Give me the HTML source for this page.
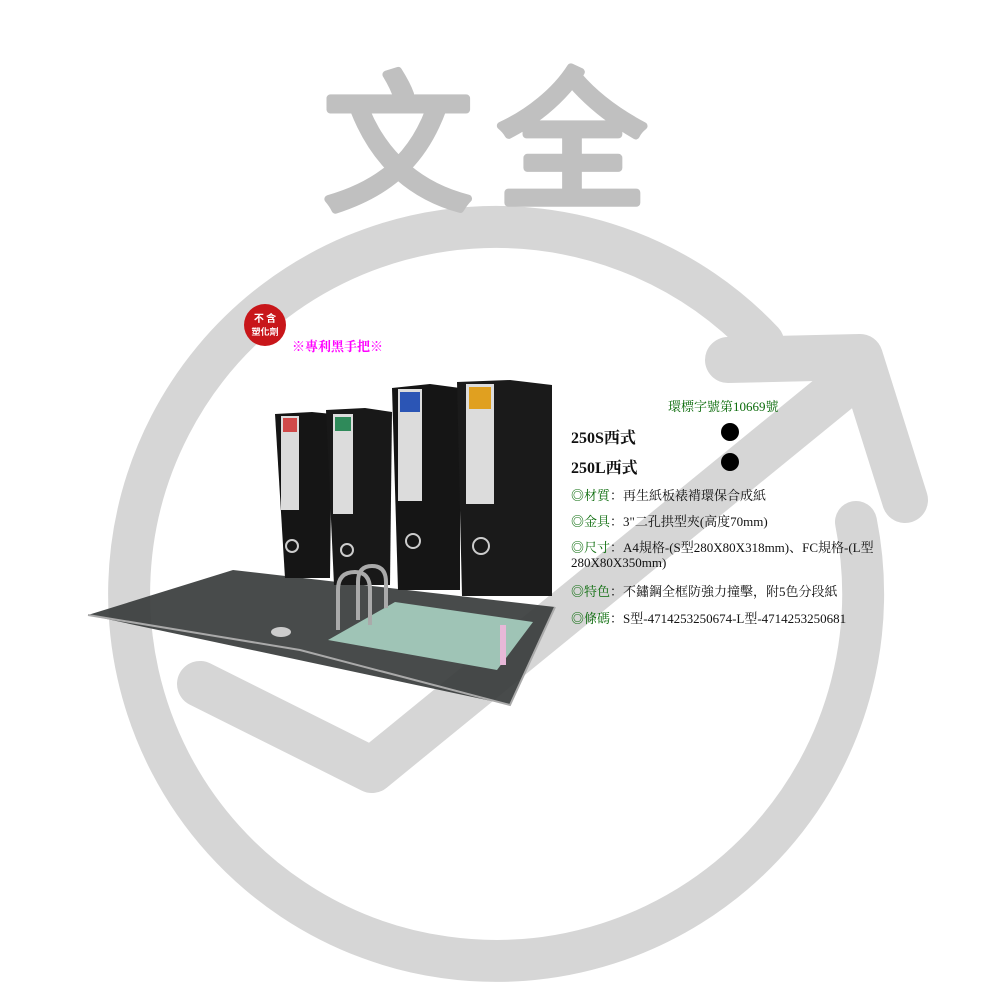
<!DOCTYPE html>
<html><head><meta charset="utf-8"><style>
body{margin:0;background:#fff;width:1000px;height:1000px;position:relative;overflow:hidden;font-family:"Liberation Serif","Noto Serif CJK SC","Noto Sans CJK TC",serif}
.t{position:absolute;white-space:nowrap;color:#111;font-size:13px}
.g{color:#0a6b0a}
.wm{font-family:"Noto Sans CJK SC","WenQuanYi Zen Hei",sans-serif;font-weight:normal}
</style></head><body>
<svg width="1000" height="1000" style="position:absolute;left:0;top:0">
<g fill="none" stroke="#d6d6d6" stroke-linecap="round" stroke-linejoin="round">
<path d="M 763 342 A 367 367 0 1 0 856 522" stroke-width="42"/>
<polyline points="200,684 372,770 860,372" stroke-width="46"/>
<polyline points="728,360 860,357 905,500" stroke-width="46"/>
</g>
<text class="wm" x="398" y="198" font-size="150" fill="#c0c0c0" stroke="#c0c0c0" stroke-width="8" stroke-linejoin="round" text-anchor="middle">文</text>
<text class="wm" x="572" y="195" font-size="150" fill="#c0c0c0" stroke="#c0c0c0" stroke-width="8" stroke-linejoin="round" text-anchor="middle">全</text>
<!-- open binder -->
<polygon points="88,615 233,570 555,607 510,705" fill="#3a3d3d" opacity="0.93"/>
<polyline points="88,615 300,650 510,705 555,607" fill="none" stroke="#aaa" stroke-width="2"/>
<ellipse cx="281" cy="632" rx="10" ry="5" fill="#ccc"/>
<!-- standing binders -->
<polygon points="275,414 312,412 332,414 330,578 285,578" fill="#151515"/>
<polygon points="326,410 365,408 392,412 390,585 334,585" fill="#181818"/>
<polygon points="392,388 430,384 460,388 460,590 398,590" fill="#151515"/>
<polygon points="457,382 510,380 552,385 552,596 462,596" fill="#1a1a1a"/>
<rect x="281" y="416" width="18" height="94" fill="#dcdcdc"/><rect x="283" y="418" width="14" height="14" fill="#d04a4a"/>
<rect x="333" y="414" width="20" height="100" fill="#dcdcdc"/><rect x="335" y="417" width="16" height="14" fill="#2f8a5a"/>
<rect x="398" y="389" width="24" height="112" fill="#dcdcdc"/><rect x="400" y="392" width="20" height="20" fill="#2b55b5"/>
<rect x="466" y="384" width="28" height="120" fill="#dcdcdc"/><rect x="469" y="387" width="22" height="22" fill="#e0a020"/>
<g fill="none" stroke="#ccc" stroke-width="2"><circle cx="292" cy="546" r="6"/><circle cx="347" cy="550" r="6"/><circle cx="413" cy="541" r="7"/><circle cx="481" cy="546" r="8"/></g>
<!-- paper -->
<polygon points="328,640 395,602 533,622 497,670" fill="#9fc4b6"/>
<rect x="500" y="625" width="6" height="40" fill="#e7b8d8"/>
<g fill="none" stroke="#aaa" stroke-width="4"><path d="M338 630 V590 Q338 572 355 572 Q370 572 370 590 V625"/><path d="M358 620 V582 Q358 566 372 566 Q386 566 386 582 V608"/></g>
<!-- badge -->
<circle cx="265" cy="325" r="21" fill="#c8161a"/>
<text x="265" y="322" font-size="10" fill="#fff" text-anchor="middle" font-weight="bold" style="font-family:'Noto Sans CJK TC',sans-serif">不 含</text>
<text x="265" y="335" font-size="9" fill="#fff" text-anchor="middle" font-weight="bold" style="font-family:'Noto Sans CJK TC',sans-serif">塑化劑</text>
<circle cx="730" cy="432" r="9" fill="#000"/><circle cx="730" cy="462" r="9" fill="#000"/>
</svg>
<div class="t" style="left:292px;top:336px;color:#ff00ff;font-weight:bold;font-size:13px">※專利黑手把※</div>
<div class="t g" style="left:668px;top:396px">環標字號第10669號</div>
<div class="t" style="left:571px;top:425px;font-size:16px;font-weight:bold">250S西式</div>
<div class="t" style="left:571px;top:455px;font-size:16px;font-weight:bold">250L西式</div>
<div class="t" style="left:571px;top:485px"><span class="g">◎材質</span>：再生紙板裱褙環保合成紙</div>
<div class="t" style="left:571px;top:511px"><span class="g">◎金具</span>：3"二孔拱型夾(高度70mm)</div>
<div class="t" style="left:571px;top:537px"><span class="g">◎尺寸</span>：A4規格-(S型280X80X318mm)、FC規格-(L型</div>
<div class="t" style="left:571px;top:555px">280X80X350mm)</div>
<div class="t" style="left:571px;top:581px"><span class="g">◎特色</span>：不鏽鋼全框防強力撞擊，附5色分段紙</div>
<div class="t" style="left:571px;top:608px"><span class="g">◎條碼</span>：S型-4714253250674-L型-4714253250681</div>
</body></html>
